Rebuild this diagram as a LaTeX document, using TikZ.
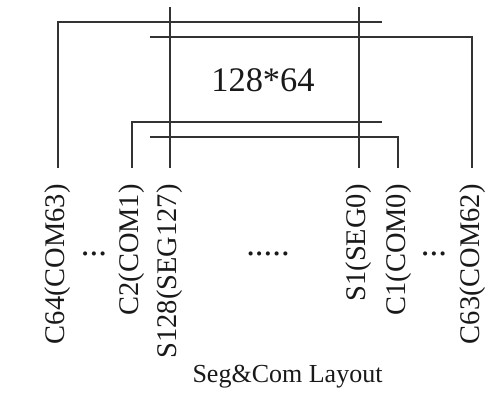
\documentclass[tikz,border=0pt]{standalone}
\usepackage{fontspec}
\setmainfont{Liberation Serif}
\usepackage{tikz}
\tikzset{
    wire/.style={line width=0.6pt, draw=black!80},
    pinlabel/.style={rotate=90, anchor=east, inner sep=0pt, text=black!90, font=\fontsize{16.2}{18}\selectfont},
    gap/.style={anchor=base, inner sep=0pt, text=black!90, font=\fontsize{19.8}{22}\selectfont},
}

\begin{document}
\begin{tikzpicture}[x=0.02cm, y=-0.02cm]
    \useasboundingbox (0, 0) rectangle (495, 398);
    % panel text
    \node[inner sep=0pt, text=black!90, font=\fontsize{19.6}{22}\selectfont](panel)at(263, 80){128*64};
    % pin labels, read upwards
    \node[pinlabel](c64)at(58, 184){C64(COM63)};
    \node[pinlabel](c2)at(132, 184){C2(COM1)};
    \node[pinlabel](s128)at(170, 184){S128(SEG127)};
    \node[pinlabel](s1)at(359, 184){S1(SEG0)};
    \node[pinlabel](c1)at(399, 184){C1(COM0)};
    \node[pinlabel](c63)at(473, 184){C63(COM62)};
    \node[gap](dotsl)at(94, 256){...};
    \node[gap](dotsm)at(268, 256){.....};
    \node[gap](dotsr)at(434, 256){...};
    \node[anchor=base, inner sep=0pt, text=black!90, font=\fontsize{14.8}{17}\selectfont](title)at(287.5, 383){Seg\&Com Layout};
    % wire ends
    \coordinate(s128top)at(170, 7);
    \coordinate(s1top)at(359, 7);
    \coordinate(c64end)at(382, 22);
    \coordinate(c63end)at(150, 37);
    \coordinate(c2end)at(382, 122);
    \coordinate(c1end)at(150, 137);
    \coordinate(c64pin)at(58, 168);
    \coordinate(c2pin)at(132, 168);
    \coordinate(s128pin)at(170, 168);
    \coordinate(s1pin)at(359, 168);
    \coordinate(c1pin)at(398, 168);
    \coordinate(c63pin)at(472, 168);
    % wires
    \draw[wire](s128top)--(s128pin);
    \draw[wire](s1top)--(s1pin);
    \draw[wire](c64end)-|(c64pin);
    \draw[wire](c63end)-|(c63pin);
    \draw[wire](c2end)-|(c2pin);
    \draw[wire](c1end)-|(c1pin);
\end{tikzpicture}
\end{document}
